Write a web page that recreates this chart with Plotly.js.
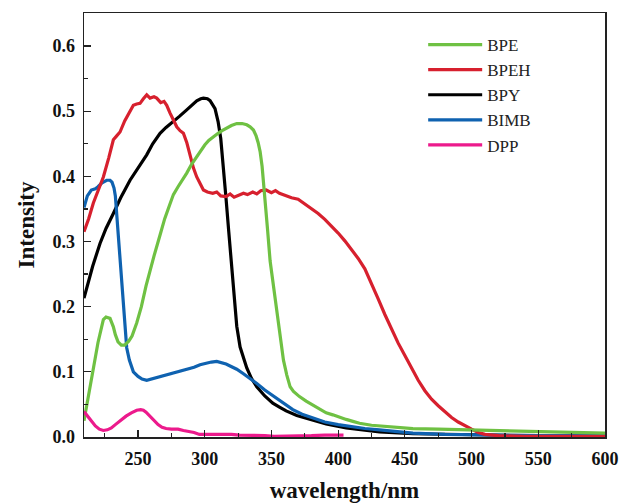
<!DOCTYPE html>
<html>
<head>
<meta charset="utf-8">
<script src="https://cdn.plot.ly/plotly-3.0.1.min.js"></script>
<style>html,body{margin:0;padding:0;background:#fff;}#chart{width:621px;height:504px;}</style>
</head>
<body>
<div id="chart"></div>
<script>
// Series names (legend order)
const seriesNames = ["BPE", "BPEH", "BPY", "BIMB", "DPP"];

// BPE (green)
const bpeWl = [209.5,212,216.5,220,224,226,229,231.5,233,235,237.5,240,243,245.5,249,252.5,256,259,262,266.5,270,274,276.5,280,283,286.5,290,293,296.5,300,303,306.5,310,313,316.5,320,324,328,331.5,334,336.5,338.5,340,341.5,343,344,345.5,347,349,350,352,354,356.5,359,361.5,364,366.5,371,376,381,386,391,396,401,406,411,416,425,440,456,475,494,520,544,570,600];
const bpeInt = [0.025,0.055,0.108,0.145,0.180,0.184,0.182,0.169,0.157,0.146,0.141,0.141,0.147,0.155,0.175,0.200,0.232,0.257,0.278,0.310,0.335,0.358,0.372,0.384,0.393,0.405,0.418,0.427,0.438,0.448,0.455,0.461,0.466,0.470,0.474,0.478,0.481,0.481,0.479,0.476,0.471,0.462,0.452,0.438,0.415,0.394,0.360,0.320,0.270,0.255,0.225,0.190,0.152,0.118,0.095,0.077,0.070,0.062,0.055,0.049,0.042,0.037,0.034,0.030,0.027,0.024,0.021,0.018,0.015,0.013,0.012,0.011,0.009,0.008,0.007,0.006];

// BPEH (red)
const bpehWl = [209.5,213,216.5,220,224,228,231.5,234,236.5,240,243,246.5,249,251.5,254,256.5,259,262,264,267,269.5,271.5,274,276.5,279,281.5,284,286.5,289,291.5,294,296.5,299,302,306,309,312,316,319,322,326,329,332,336,339,342,346,350,353,356,360,365,370,375,380,385,390,395,400,405,410,415,420,425,430,435,440,445,450,455,460,465,470,475,480,485,490,495,500,505,510,520,540,570,600];
const bpehInt = [0.315,0.335,0.359,0.378,0.399,0.428,0.456,0.462,0.468,0.485,0.497,0.509,0.511,0.512,0.519,0.525,0.520,0.522,0.520,0.513,0.515,0.509,0.497,0.487,0.476,0.470,0.466,0.452,0.430,0.413,0.399,0.388,0.379,0.376,0.374,0.376,0.370,0.369,0.373,0.368,0.371,0.374,0.372,0.376,0.373,0.378,0.379,0.375,0.378,0.374,0.371,0.367,0.365,0.358,0.351,0.343,0.334,0.324,0.313,0.301,0.288,0.274,0.258,0.236,0.212,0.188,0.165,0.144,0.125,0.105,0.087,0.071,0.058,0.048,0.039,0.030,0.023,0.017,0.012,0.007,0.004,0.002,0.001,0.001,0.001];

// BPY (black)
const bpyWl = [209.5,212,216,221.5,226,231.5,237,244,250,256.5,261,266.5,271,276.5,281,286.5,290,294,297,299,302,304,307.7,310,312,314,316,318,320,322,324,326.5,329,331.5,335,339,345,351,356,361,369,381,391,406,420,431,456,480,506,550,600];
const bpyInt = [0.213,0.233,0.262,0.297,0.320,0.343,0.367,0.394,0.413,0.433,0.450,0.466,0.475,0.484,0.492,0.502,0.508,0.516,0.519,0.520,0.519,0.516,0.504,0.484,0.458,0.415,0.365,0.315,0.265,0.210,0.170,0.138,0.120,0.106,0.090,0.077,0.063,0.052,0.046,0.040,0.033,0.026,0.020,0.014,0.010,0.008,0.005,0.004,0.003,0.002,0.002];

// BIMB (blue)
const bimbWl = [209.5,212,215,218,220,223,226.5,229,230.5,232,233,235,237,238.5,240,241.5,243.5,246.5,250,253,256.5,260,266.5,272,276,281.5,287,292,296.5,300,305,309,313,316,319,324,329,334,339,345,351,356,361,366,373,381,390,400,406,420,431,445,456,480,506,550,600];
const bimbInt = [0.352,0.370,0.379,0.381,0.384,0.390,0.394,0.394,0.391,0.382,0.370,0.315,0.260,0.220,0.175,0.137,0.118,0.100,0.093,0.089,0.087,0.089,0.093,0.095,0.098,0.101,0.104,0.107,0.111,0.113,0.115,0.116,0.114,0.112,0.109,0.104,0.097,0.090,0.082,0.072,0.063,0.056,0.048,0.042,0.035,0.029,0.023,0.019,0.017,0.013,0.011,0.008,0.006,0.004,0.003,0.002,0.002];

// DPP (magenta)
const dppWl = [209.5,212,215,218,221,224,227,230,233,237,241,245,249,252,254,256,259,262,265,268,271,275,280,284,288,292,296,300,305,310,315,320,326,332,338,345,352,360,370,380,390,397,404];
const dppInt = [0.039,0.033,0.025,0.017,0.012,0.010,0.011,0.014,0.019,0.026,0.032,0.037,0.041,0.042,0.041,0.038,0.032,0.025,0.019,0.015,0.013,0.012,0.012,0.010,0.009,0.007,0.004,0.004,0.005,0.004,0.005,0.004,0.003,0.003,0.002,0.002,0.001,0.001,0.001,0.002,0.003,0.003,0.003];

// Axis ticks
const xTickVals = [250,300,350,400,450,500,550,600];
const yTickVals = [0.0,0.1,0.2,0.3,0.4,0.5,0.6];
const yTickText = ["0.0","0.1","0.2","0.3","0.4","0.5","0.6"];

const colors = {BPE:"#6fc143", BPEH:"#d7202e", BPY:"#000000", BIMB:"#0f62b0", DPP:"#ec1a8c"};

function tr(name, x, y, rank) {
  return {
    type: "scatter", mode: "lines", name: name, x: x, y: y,
    line: {color: colors[name], width: 3.2},
    legendgroup: name, legendrank: rank
  };
}

const data = [
  tr("BPY", bpyWl, bpyInt, 3),
  tr("BIMB", bimbWl, bimbInt, 4),
  tr("BPEH", bpehWl, bpehInt, 2),
  tr("BPE", bpeWl, bpeInt, 1),
  tr("DPP", dppWl, dppInt, 5)
];

const serif = "Liberation Serif, Times New Roman, serif";
const tickFont = {family: serif, size: 18, color: "#111", weight: "bold"};
const titleFont = {family: serif, size: 23, color: "#111", weight: "bold"};

const layout = {
  width: 621, height: 504,
  margin: {l: 84, r: 16, t: 13, b: 67},
  paper_bgcolor: "#fff", plot_bgcolor: "#fff",
  showlegend: true,
  legend: {
    x: 0.651, y: 0.967, xanchor: "left", yanchor: "top",
    bgcolor: "rgba(0,0,0,0)", borderwidth: 0,
    font: {family: serif, size: 17, color: "#222"},
    traceorder: "grouped", tracegroupgap: 0, itemwidth: 54
  },
  xaxis: {
    range: [209.5, 600], tickvals: xTickVals, ticktext: xTickVals.map(String),
    ticks: "inside", ticklen: 7, tickwidth: 1.2, tickcolor: "#222",
    minor: {dtick: 25, tick0: 0, ticks: "inside", ticklen: 4, tickwidth: 1.2, tickcolor: "#222"},
    showline: true, linecolor: "#222", linewidth: 1.5, mirror: true,
    showgrid: false, zeroline: false,
    tickfont: tickFont, ticklabelstandoff: 5,
    title: {text: "wavelength/nm", font: titleFont, standoff: 14}
  },
  yaxis: {
    range: [0, 0.6506], tickvals: yTickVals, ticktext: yTickText,
    ticks: "inside", ticklen: 7, tickwidth: 1.2, tickcolor: "#222",
    minor: {dtick: 0.05, tick0: 0, ticks: "inside", ticklen: 4, tickwidth: 1.2, tickcolor: "#222"},
    showline: true, linecolor: "#222", linewidth: 1.5, mirror: true,
    showgrid: false, zeroline: false,
    tickfont: tickFont, ticklabelstandoff: 4,
    title: {text: "Intensity", font: titleFont, standoff: 11}
  }
};

Plotly.newPlot("chart", data, layout, {staticPlot: true, displayModeBar: false});
</script>
</body>
</html>
